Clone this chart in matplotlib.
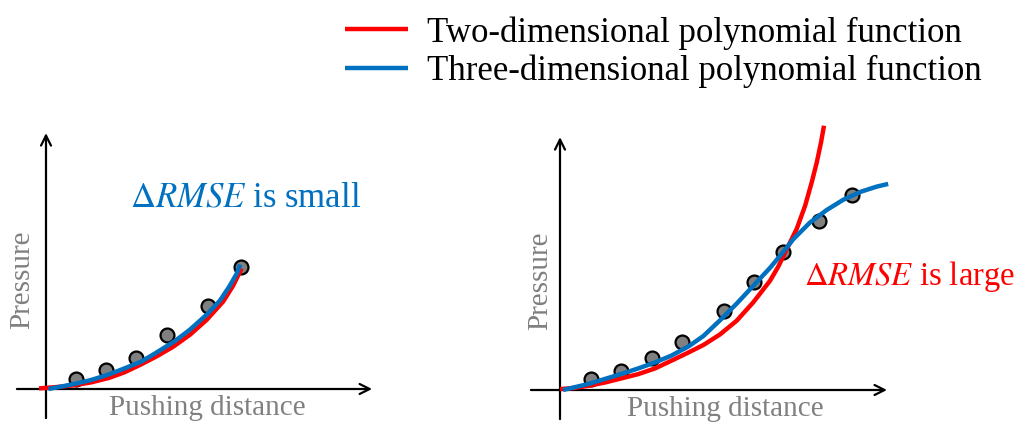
import matplotlib.pyplot as plt

plt.rcParams['font.family'] = ['Liberation Serif', 'DejaVu Serif']
plt.rcParams['mathtext.fontset'] = 'stix'

left_pts_x = [1.0, 2.0, 3.0, 4.05, 5.4, 6.5]
left_pts_y = [0.32, 0.62, 1.02, 1.8, 2.77, 4.08]
left_red_x = [-0.23, 0.3, 0.9, 1.5, 2.1, 2.6, 3.13, 3.69, 4.24, 4.8, 5.36, 5.91, 6.24, 6.52]
left_red_y = [0.02, 0.06, 0.12, 0.22, 0.37, 0.55, 0.8, 1.09, 1.41, 1.81, 2.31, 2.92, 3.45, 4.02]
left_blue_x = [0.08, 0.6, 1.0, 1.5, 2.08, 2.6, 3.19, 3.69, 4.3, 4.8, 5.38, 5.8, 6.1, 6.36, 6.47]
left_blue_y = [0.0, 0.1, 0.18, 0.3, 0.48, 0.68, 0.92, 1.22, 1.6, 1.98, 2.5, 2.95, 3.4, 3.85, 4.15]

# Right panel
right_pts_x = [1.03, 2.03, 3.06, 4.08, 5.48, 6.48, 7.44, 8.64, 9.72]
right_pts_y = [0.36, 0.64, 1.06, 1.61, 2.63, 3.61, 4.61, 5.63, 6.5]
right_red_x = [0.0, 0.5, 0.94, 1.5, 2.06, 2.61, 3.17, 3.72, 4.22, 4.78, 5.33, 5.89,
               6.44, 7.0, 7.28, 7.56, 7.89, 8.17, 8.39, 8.56, 8.7, 8.8]
right_red_y = [0.03, 0.07, 0.14, 0.25, 0.39, 0.53, 0.72, 0.98, 1.22, 1.5, 1.85, 2.31,
               2.92, 3.64, 4.12, 4.7, 5.37, 6.14, 6.92, 7.59, 8.25, 8.81]
right_blue_x = [0.1, 0.94, 1.5, 2.06, 2.61, 3.17, 3.72, 4.28, 4.78, 5.33, 5.89, 6.44,
                7.0, 7.44, 7.78, 8.33, 8.89, 9.44, 10.0, 10.56, 10.94]
right_blue_y = [0.0, 0.2, 0.37, 0.54, 0.72, 0.92, 1.15, 1.45, 1.8, 2.32, 2.88, 3.47,
                4.07, 4.6, 5.03, 5.58, 6.0, 6.34, 6.6, 6.78, 6.87]

legend_labels = ['Two-dimensional polynomial function', 'Three-dimensional polynomial function']

RED = '#FF0000'
BLUE = '#0070C0'
GRAY = '#808080'

W, H = 1026, 424
fig = plt.figure(figsize=(W / 100, H / 100), dpi=100)

# 1 data unit = 30 px, origin of each panel placed where it is in the picture
ax1 = fig.add_axes([1 / W, 2 / H, 390 / W, 318 / H])
ax1.set_xlim(-1.5, 11.5)
ax1.set_ylim(-1.1, 9.5)
ax2 = fig.add_axes([515 / W, 1 / H, 510 / W, 318 / H])
ax2.set_xlim(-1.5, 15.5)
ax2.set_ylim(-1.1, 9.5)


def draw_panel(ax, px, py, rx, ry, bx, by, xend, ytop, xlab_x, ylab_x):
    ax.axis('off')
    arrow = dict(arrowstyle='->', lw=1.6, color='black', mutation_scale=18,
                 shrinkA=0, shrinkB=0)
    ax.annotate('', xy=(xend, 0), xytext=(-0.97, 0), arrowprops=arrow)
    ax.annotate('', xy=(0, ytop), xytext=(0, -0.97), arrowprops=arrow)
    ax.plot(px, py, 'o', ms=10, mfc=GRAY, mec='black', mew=1.6, zorder=3)
    red, = ax.plot(rx, ry, color=RED, lw=3.2, zorder=4, solid_capstyle='butt',
                   solid_joinstyle='round')
    blue, = ax.plot(bx, by, color=BLUE, lw=3.2, zorder=5, solid_capstyle='butt',
                    solid_joinstyle='round')
    ax.text(xlab_x, -0.63, 'Pushing distance', color=GRAY, fontsize=21,
            ha='center', va='center')
    ax.text(ylab_x, 3.65, 'Pressure', color=GRAY, fontsize=21,
            ha='center', va='center', rotation=90)
    return red, blue


red, blue = draw_panel(ax1, left_pts_x, left_pts_y, left_red_x, left_red_y,
                       left_blue_x, left_blue_y, 10.87, 8.53, 5.38, -0.8)
draw_panel(ax2, right_pts_x, right_pts_y, right_red_x, right_red_y,
           right_blue_x, right_blue_y, 10.9, 8.43, 5.5, -0.67)

ax1.text(2.8, 6.37, r'$\Delta RMSE$ is small', color=BLUE, fontsize=25,
         ha='left', va='center')
ax2.text(8.15, 3.8, r'$\Delta RMSE$ is large', color=RED, fontsize=23.5,
         ha='left', va='center')

fig.legend([red, blue], legend_labels, loc='upper left',
           bbox_to_anchor=(345 / W, 1 - 16 / H), frameon=False,
           fontsize=25, handlelength=1.8, handletextpad=0.55,
           labelspacing=0.14, borderpad=0, borderaxespad=0)

fig.savefig('out.png', dpi=100)
